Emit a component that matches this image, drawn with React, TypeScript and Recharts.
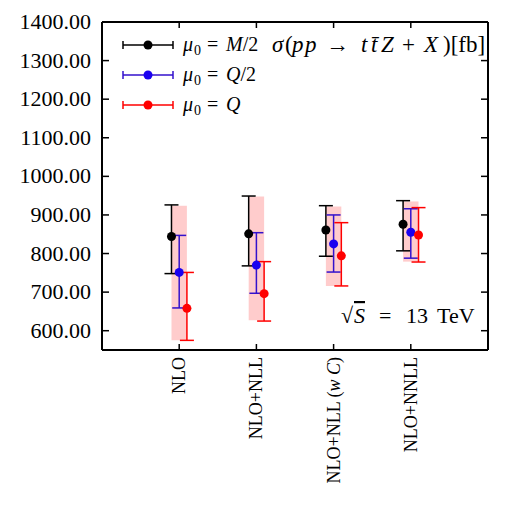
import { ScatterChart, Scatter, XAxis, YAxis, ErrorBar, ReferenceArea, Legend } from "recharts";

// categories along x (placed at x = 1..4)
const categories = ["NLO", "NLO+NLL", "NLO+NLL (w C)", "NLO+NNLL"];
const xTicks = [1, 2, 3, 4];
const yTicks = [600, 700, 800, 900, 1000, 1100, 1200, 1300, 1400];

// mu0 = M/2
const centralM2 = [844, 851, 861, 876];
const lowM2 = [748, 768, 793, 807];
const highM2 = [926, 949, 924, 937];

// mu0 = Q/2
const centralQ2 = [751, 770, 825, 855];
const lowQ2 = [659, 697, 752, 788];
const highQ2 = [847, 854, 900, 916];

// mu0 = Q
const centralQ = [658, 696, 794, 848];
const lowQ = [575, 625, 716, 778];
const highQ = [751, 779, 880, 919];

// shaded envelope
const bandLow = [575, 627, 716, 779];
const bandHigh = [924, 948, 922, 935];

const FONT = "'Liberation Serif', serif";
const W = 519;
const H = 505;
const MARGIN = { top: 21, right: 30, bottom: 154, left: 0 };
const Y_AXIS_W = 102;
// plot box = chart minus margins, the left axis and the 1px mirrored axes
const PLOT_W = W - MARGIN.left - MARGIN.right - Y_AXIS_W - 1;
const PLOT_H = H - MARGIN.top - MARGIN.bottom - 2;

const toPoints = (central: number[], low: number[], high: number[], offset: number) =>
  central.map((v, i) => ({ x: i + 1 + offset, y: v, err: [v - low[i], high[i] - v] }));

const series = [
  { name: "M/2", bar: "#000000", dot: "#000000", data: toPoints(centralM2, lowM2, highM2, -0.1) },
  { name: "Q/2", bar: "#3311cc", dot: "#1a00f0", data: toPoints(centralQ2, lowQ2, highQ2, 0) },
  { name: "Q", bar: "#ff0000", dot: "#ff0000", data: toPoints(centralQ, lowQ, highQ, 0.1) },
];

const Dot = (color: string) => (props: any) => <circle cx={props.cx} cy={props.cy} r={4.5} fill={color} />;

// y ticks: inward marks on both the left and the right frame, label on the left
const LeftTick = ({ x, y, payload }: any) => {
  const ax = Number(x) + 11;
  return (
    <g>
      <line x1={ax} x2={ax + 7} y1={y} y2={y} stroke="#000" strokeWidth={1.5} />
      <line x1={ax + PLOT_W} x2={ax + PLOT_W - 7} y1={y} y2={y} stroke="#000" strokeWidth={1.5} />
      <text x={x} y={Number(y) + 7} textAnchor="end" fontSize={22} fontFamily={FONT} fill="#000">
        {Number(payload.value).toFixed(2)}
      </text>
    </g>
  );
};

// x ticks: inward marks on bottom and top frame, rotated label below
const BottomTick = ({ x, y, payload }: any) => {
  const label = categories[payload.value - 1] ?? "";
  const wc = label.endsWith("(w C)");
  const ay = Number(y) - 10;
  const ty = Number(y) - 3;
  return (
    <g>
      <line x1={x} x2={x} y1={ay} y2={ay - 6} stroke="#000" strokeWidth={1.5} />
      <line x1={x} x2={x} y1={ay - PLOT_H} y2={ay - PLOT_H + 6} stroke="#000" strokeWidth={1.5} />
      <text
        x={x}
        y={ty}
        transform={`rotate(-90, ${x}, ${ty})`}
        textAnchor="end"
        dy={6}
        fontSize={18}
        fontFamily={FONT}
        fill="#000"
      >
        {wc ? (
          <>
            {"NLO+NLL ("}
            <tspan fontStyle="italic">w</tspan>
            {" "}
            <tspan fontStyle="italic">C</tspan>
            {")"}
          </>
        ) : (
          label
        )}
      </text>
    </g>
  );
};

const Overlay = () => (
  <svg width={W} height={H} style={{ position: "absolute", left: 0, top: 0 }}>
    {series.map((s, i) => {
      const y = 45 + i * 30;
      const half = s.name.includes("/2");
      return (
        <g key={s.name}>
          <line x1={123} x2={173} y1={y} y2={y} stroke={s.bar} strokeWidth={1.5} />
          <line x1={123} x2={123} y1={y - 4} y2={y + 4} stroke={s.bar} strokeWidth={1.5} />
          <line x1={173} x2={173} y1={y - 4} y2={y + 4} stroke={s.bar} strokeWidth={1.5} />
          <circle cx={148} cy={y} r={4.5} fill={s.dot} />
          <text y={y + 6} fontSize={20} fontFamily={FONT} fill="#000">
            <tspan x={183} fontStyle="italic">μ</tspan>
            <tspan x={194} fontSize={14} dy={4}>0</tspan>
            <tspan x={207} dy={-4}>=</tspan>
            <tspan x={226} fontStyle="italic">{s.name.replace("/2", "")}</tspan>
            <tspan>{half ? "/2" : ""}</tspan>
          </text>
        </g>
      );
    })}
    <text y={52} fontSize={23} fontFamily={FONT} fill="#000">
      <tspan x={272} fontStyle="italic">σ</tspan>
      <tspan x={285}>(</tspan>
      <tspan x={292} fontStyle="italic">p</tspan>
      <tspan x={305} fontStyle="italic">p</tspan>
      <tspan x={326}>→</tspan>
      <tspan x={361} fontStyle="italic">t</tspan>
      <tspan x={371} fontStyle="italic">{"t\u0304"}</tspan>
      <tspan x={381} fontStyle="italic">Z</tspan>
      <tspan x={402}>+</tspan>
      <tspan x={424} fontStyle="italic">X</tspan>
      <tspan x={443}>)[fb]</tspan>
    </text>
    <text y={323} fontSize={22} fontFamily={FONT} fill="#000">
      <tspan x={341}>√</tspan>
      <tspan x={354} fontStyle="italic" textDecoration="overline">S</tspan>
      <tspan x={379}>=</tspan>
      <tspan x={406}>13</tspan>
      <tspan x={437}>TeV</tspan>
    </text>
  </svg>
);

export default function App() {
  return (
    <div style={{ position: "absolute", left: 0, top: 0 }}>
      <ScatterChart width={W} height={H} margin={MARGIN}>
        <XAxis
          xAxisId="b"
          type="number"
          dataKey="x"
          domain={[0, 5]}
          ticks={xTicks}
          height={1}
          tickSize={0}
          tickMargin={10}
          tick={<BottomTick />}
          axisLine={{ stroke: "#000", strokeWidth: 2 }}
          interval={0}
        />
        <XAxis
          xAxisId="t"
          orientation="top"
          type="number"
          domain={[0, 5]}
          height={1}
          tick={false}
          tickLine={false}
          axisLine={{ stroke: "#000", strokeWidth: 2 }}
        />
        <YAxis
          yAxisId="l"
          type="number"
          dataKey="y"
          domain={[550, 1400]}
          ticks={yTicks}
          width={Y_AXIS_W}
          tickSize={0}
          tickMargin={11}
          tick={<LeftTick />}
          axisLine={{ stroke: "#000", strokeWidth: 2 }}
          interval={0}
        />
        <YAxis
          yAxisId="r"
          orientation="right"
          type="number"
          domain={[550, 1400]}
          width={1}
          tick={false}
          tickLine={false}
          axisLine={{ stroke: "#000", strokeWidth: 2 }}
        />
        {bandLow.map((lo, i) => (
          <ReferenceArea
            key={`band-${i}`}
            xAxisId="b"
            yAxisId="l"
            x1={i + 1 - 0.1}
            x2={i + 1 + 0.1}
            y1={lo}
            y2={bandHigh[i]}
            fill="#ff0000"
            fillOpacity={0.2}
            stroke="none"
          />
        ))}
        {series.map((s) => (
          <Scatter
            key={s.name}
            xAxisId="b"
            yAxisId="l"
            data={s.data}
            shape={Dot(s.dot)}
            isAnimationActive={false}
          >
            <ErrorBar dataKey="err" direction="y" width={7} stroke={s.bar} strokeWidth={1.5} />
          </Scatter>
        ))}
        <Legend
          layout="horizontal"
          verticalAlign="middle"
          align="center"
          content={() => <Overlay />}
          wrapperStyle={{ position: "absolute", left: 0, top: 0, width: W, height: H, pointerEvents: "none" }}
        />
      </ScatterChart>
    </div>
  );
}
